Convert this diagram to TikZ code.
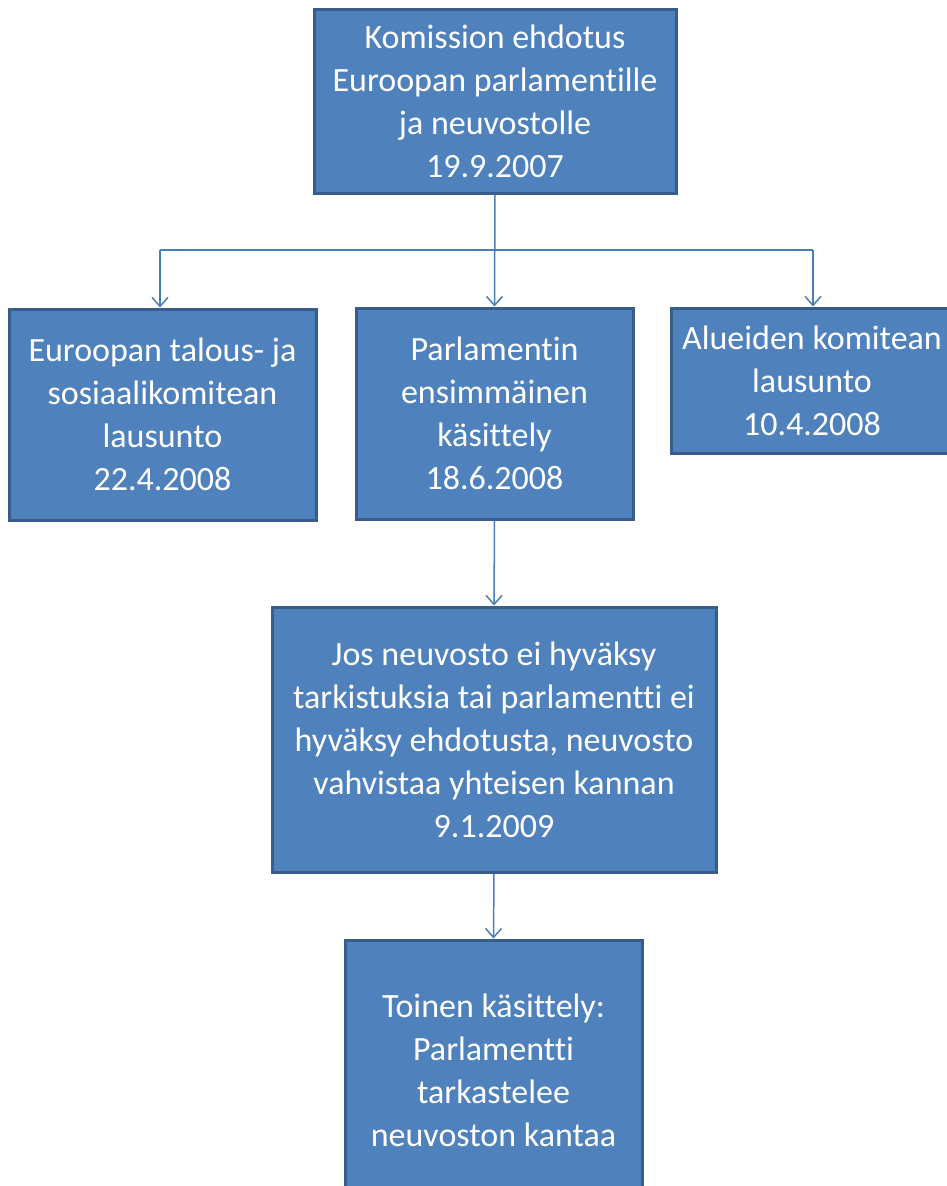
\documentclass[tikz,border=0pt]{standalone}
\usepackage{fontspec}
\setmainfont[Ligatures=NoCommon]{Carlito}
\usetikzlibrary{arrows.meta}
\definecolor{laatikko}{HTML}{4F81BD}
\definecolor{reuna}{HTML}{385D8A}
\definecolor{viiva}{HTML}{4A7EBB}
\begin{document}
\begin{tikzpicture}[x=1pt,y=-1pt]
         \tikzset{vaihe/.style={draw=reuna,fill=laatikko,line width=3pt,text=white,align=center,inner sep=0pt,font=\fontsize{34}{43}\selectfont}}
         \tikzset{nuoli/.style={draw=viiva,line width=1.5pt,-{Straight Barb[length=9pt,width=16pt]}}}
         \useasboundingbox (0,0) rectangle (947,1186);
         \clip (0,0) rectangle (947,1186);
         \node[vaihe,minimum width=362,minimum height=184] (komissio) at (495,101) {Komission ehdotus\\Euroopan parlamentille\\ja neuvostolle\\19.9.2007};
         \node[vaihe,minimum width=307,minimum height=211] (talous) at (162.5,414.5) {Euroopan talous- ja\\sosiaalikomitean\\lausunto\\22.4.2008};
         \node[vaihe,minimum width=277,minimum height=211] (ensimmainen) at (494.5,413.5) {Parlamentin\\ensimmäinen\\käsittely\\18.6.2008};
         \node[vaihe,minimum width=282,minimum height=145] (alueet) at (812,380.5) {Alueiden komitean\\lausunto\\10.4.2008};
         \node[vaihe,minimum width=444,minimum height=265] (kanta) at (494,739.5) {Jos neuvosto ei hyväksy\\tarkistuksia tai parlamentti ei\\hyväksy ehdotusta, neuvosto\\vahvistaa yhteisen kannan\\9.1.2009};
         \node[vaihe,minimum width=297,minimum height=260] (toinen) at (493.5,1070) {Toinen käsittely:\\Parlamentti\\tarkastelee\\neuvoston kantaa};
         \coordinate (haaraV) at (160,250);
         \coordinate (haaraO) at (813,250);
         \draw[draw=viiva,line width=1.5pt] (haaraV) -- (haaraO);
         \draw[nuoli] (komissio.south) -- (ensimmainen.north);
         \draw[nuoli] (haaraV) -- (haaraV |- talous.north);
         \draw[nuoli] (haaraO) -- (haaraO |- alueet.north);
         \draw[nuoli] (ensimmainen.south) -- (kanta.north);
         \draw[nuoli] (kanta.south) -- (toinen.north);
\end{tikzpicture}
\end{document}
